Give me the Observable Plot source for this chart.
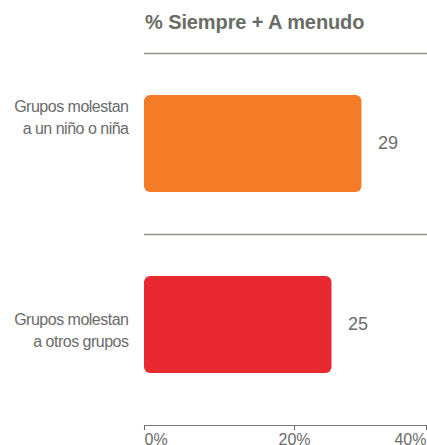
<!DOCTYPE html>
<html>
<head>
<meta charset="utf-8">
<script src="https://cdn.jsdelivr.net/npm/d3@7"></script>
<script src="https://cdn.jsdelivr.net/npm/@observablehq/plot@0.6"></script>
<style>
  html, body { margin: 0; padding: 0; background: #fff; overflow: hidden; }
  #wrap { position: relative; width: 427px; height: 445px; overflow: hidden; font-family: "Liberation Sans", Arial, sans-serif; }
  #title { position: absolute; left: 145px; top: 12px; font-size: 20px; line-height: 20px; font-weight: bold; color: #696d66; white-space: nowrap; letter-spacing: -0.1px; }
  #chart { position: absolute; left: 0; top: 0; width: 445px; height: 445px; }
  #chart svg { max-width: none !important; width: 445px !important; height: 445px !important; }
</style>
</head>
<body>
<div id="wrap">
  <div id="chart"></div>
  <div id="title">% Siempre + A menudo</div>
</div>
<script>
const categories = ["Grupos molestan\na un niño o niña", "Grupos molestan\na otros grupos"];
const values = [29, 25];
const barColors = ["#F47C26", "#E8292F"];
const xTicks = [0, 20, 40];

const data = categories.map((c, i) => ({cat: c, value: values[i], color: barColors[i]}));
const fmt = d => d + "%";
const gray = "#6b6b6b";

const chart = Plot.plot({
  width: 445,
  height: 445,
  marginLeft: 144,
  marginRight: 1,
  marginTop: 53,
  marginBottom: 20,
  x: {domain: [0, 40]},
  y: {domain: categories, paddingInner: 0.464, paddingOuter: 0.232, insetBottom: 10, axis: null},
  color: {type: "identity"},
  style: {fontFamily: "'Liberation Sans', Arial, sans-serif", background: "transparent", overflow: "visible", maxWidth: "none"},
  marks: [
    Plot.ruleY(data, {y: "cat", dy: -90.5, stroke: "#8c9189", strokeWidth: 1.6}),
    Plot.barX(data, {x: "value", y: "cat", fill: "color", rx: 6}),
    Plot.text(data, {x: "value", y: "cat", text: d => String(d.value), textAnchor: "start", dx: 16, dy: -1, fontSize: 18, fill: gray}),
    Plot.text(data.slice(0, 1), {y: "cat", text: "cat", frameAnchor: "left", textAnchor: "end", dx: -16, dy: -28, lineHeight: 1.35, fontSize: 16, fill: gray}),
    Plot.text(data.slice(1, 2), {y: "cat", text: "cat", frameAnchor: "left", textAnchor: "end", dx: -16, dy: 4, lineHeight: 1.35, fontSize: 16, fill: gray}),
    Plot.frame({anchor: "bottom", stroke: "#7a7a7a", strokeWidth: 1.2}),
    Plot.axisX(xTicks.slice(0, 1), {tickFormat: fmt, tickSize: 5, tickPadding: 3, fontSize: 16, color: gray, textAnchor: "start", label: null}),
    Plot.axisX(xTicks.slice(1, 2), {tickFormat: fmt, tickSize: 5, tickPadding: 3, fontSize: 16, color: gray, label: null}),
    Plot.axisX(xTicks.slice(2, 3), {tickFormat: fmt, tickSize: 5, tickPadding: 3, fontSize: 16, color: gray, textAnchor: "end", dx: -18, label: null})
  ]
});
// slightly condense category labels
const flat = categories.map(c => c.replace(/\s/g, ""));
d3.select(chart).selectAll("text")
  .filter(function() { return flat.includes(this.textContent.replace(/\s/g, "")); })
  .style("letter-spacing", "-0.5px");
document.getElementById("chart").appendChild(chart);
</script>
</body>
</html>
